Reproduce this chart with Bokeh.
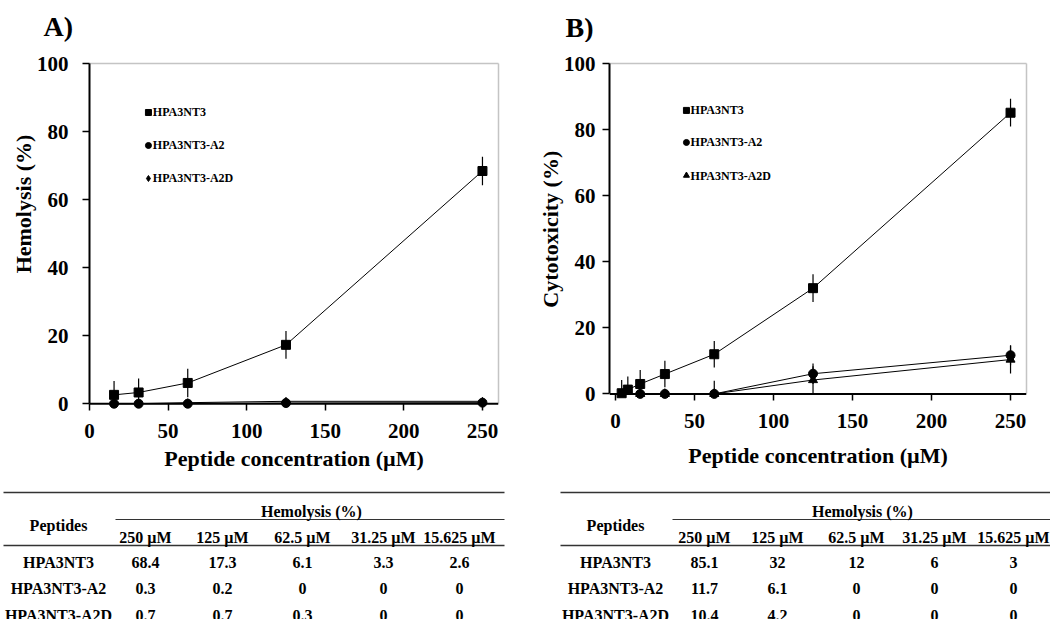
from bokeh.plotting import figure
from bokeh.layouts import column, row
from bokeh.models import Range1d, LinearAxis, FixedTicker, GlobalInlineStyleSheet, Span
from bokeh.core.properties import value
from bokeh.embed import file_html
from bokeh.resources import INLINE

FONT = "Liberation Serif"

# ---------------- data ----------------
# Panel A (hemolysis)
conc_A = [15.625, 31.25, 62.5, 125, 250]
hemo_hpa = [2.6, 3.3, 6.1, 17.3, 68.4]
hemo_hpa_err = [4.1, 4.1, 4.2, 4.1, 4.2]
hemo_a2 = [0, 0, 0, 0.2, 0.3]
hemo_a2d = [0, 0, 0.3, 0.7, 0.7]

# Panel B (cytotoxicity)
conc_B_hpa = [3.9, 7.8, 15.625, 31.25, 62.5, 125, 250]
cyto_hpa = [0.2, 1.3, 3, 6, 12, 32, 85.1]
cyto_hpa_err = [4, 4, 4.2, 4, 4, 4.2, 4.2]
conc_B = [15.625, 31.25, 62.5, 125, 250]
cyto_a2 = [0, 0, 0, 6.1, 11.7]
cyto_a2_err = [0, 0, 4, 3.1, 3]
cyto_a2d = [0, 0, 0, 4.2, 10.4]
cyto_a2d_err = [0, 0, 0, 4.2, 4.2]

x_ticks = [0, 50, 100, 150, 200, 250]
y_ticks = [0, 20, 40, 60, 80, 100]

series_names = ["HPA3NT3", "HPA3NT3-A2", "HPA3NT3-A2D"]
panel_titles = ["A)", "B)"]

# tables
table_cols = ["250 \u00b5M", "125 \u00b5M", "62.5 \u00b5M", "31.25 \u00b5M", "15.625 \u00b5M"]
table_header = "Hemolysis (%)"
hemo_table = [["68.4", "17.3", "6.1", "3.3", "2.6"],
              ["0.3", "0.2", "0", "0", "0"],
              ["0.7", "0.7", "0.3", "0", "0"]]
cyto_table = [["85.1", "32", "12", "6", "3"],
              ["11.7", "6.1", "0", "0", "0"],
              ["10.4", "4.2", "0", "0", "0"]]

HEAD_H = 42   # header strip with panel letters
TOP_H = 483   # bottom of the chart row (px)
ROW_H = TOP_H - HEAD_H


def canvas(width, y0, y1):
    f = figure(width=width, height=y1 - y0, x_range=Range1d(0, width),
               y_range=Range1d(y1, y0), x_axis_type=None, y_axis_type=None,
               toolbar_location=None, output_backend="svg", min_border=0,
               title_location=None)
    f.grid.visible = False
    f.outline_line_color = None
    return f


def make_panel(ylabel, xstart, xend, fw, fh, bl, br, frame_top,
               ylab_std, ytick_std, xlab_std):
    bt = frame_top - HEAD_H
    p = figure(frame_width=fw, frame_height=fh,
               min_border_left=bl, min_border_right=br,
               min_border_top=bt, min_border_bottom=ROW_H - bt - fh,
               x_range=Range1d(xstart, xend), y_range=Range1d(-2, 100),
               toolbar_location=None, output_backend="svg", title_location=None,
               background_fill_color="white", border_fill_color="white")
    p.grid.visible = False
    p.outline_line_color = None

    for ax in (p.xaxis[0], p.yaxis[0]):
        ax.axis_line_color = "black"
        ax.axis_line_width = 2
        ax.major_tick_line_color = "black"
        ax.major_tick_line_width = 1.5
        ax.minor_tick_line_color = None
        ax.major_label_text_font = FONT
        ax.major_label_text_font_style = "bold"
        ax.major_label_text_font_size = "21px"
        ax.major_label_text_color = "black"
        ax.axis_label_text_font = FONT
        ax.axis_label_text_font_style = "bold"
        ax.axis_label_text_font_size = "22px"
        ax.axis_label_text_color = "black"

    # x axis: ticks pointing down from the zero line (frame bottom sits at -2)
    p.xaxis.ticker = FixedTicker(ticks=x_ticks)
    p.xaxis.axis_line_color = None
    p.xaxis.major_tick_in = 7
    p.xaxis.major_tick_out = 0
    p.xaxis.axis_label = "Peptide concentration (\u00b5M)"
    p.xaxis.major_label_standoff = 13
    p.xaxis.axis_label_standoff = xlab_std
    p.add_layout(Span(location=0, dimension="width", line_color="black", line_width=2))

    p.yaxis.ticker = FixedTicker(ticks=y_ticks)
    p.yaxis.bounds = (0, 100)
    p.yaxis.major_tick_in = 0
    p.yaxis.major_tick_out = 7
    p.yaxis.axis_label = ylabel
    p.yaxis.major_label_standoff = ytick_std
    p.yaxis.axis_label_standoff = ylab_std

    # light gray frame on top and right
    for side in ("right", "above"):
        ax = LinearAxis(ticker=FixedTicker(ticks=[]), axis_line_color="#c4c4c4",
                        axis_line_width=1.5, major_tick_in=0, major_tick_out=0,
                        minor_tick_in=0, minor_tick_out=0,
                        major_label_standoff=0, axis_label_standoff=0,
                        major_label_text_font_size="0px")
        if side == "right":
            ax.bounds = (0, 100)
        p.add_layout(ax, side)
    return p


def err_bars(p, xs, ys, es):
    lo = [max(0, y - e) for y, e in zip(ys, es)]
    hi = [y + e for y, e in zip(ys, es)]
    p.segment(x0=xs, y0=lo, x1=xs, y1=hi, line_color="black", line_width=1.2)


def legend(p, x_marker, x_text, ys, markers):
    for y, name, m in zip(ys, series_names, markers):
        p.scatter([x_marker], [y], marker=m, size=6, color="black")
        p.text([x_text], [y], text=[name], text_font=value(FONT), text_font_style="bold",
               text_font_size="12px", text_baseline="middle", text_align="left",
               text_color="black")


# ---------------- header (panel letters) ----------------
H = canvas(1050, 0, HEAD_H)
H.text([43, 565], [26, 27], text=panel_titles, text_font=value(FONT),
       text_font_style="bold", text_font_size="28px", text_align="left",
       text_baseline="middle", text_color="black")

# ---------------- panel A ----------------
pA = make_panel("\u00a0" * 12 + "Hemolysis (%)", 0, 260.2, 409, 347, 89, 22, 61,
                -2, 14, 5)
err_bars(pA, conc_A, hemo_hpa, hemo_hpa_err)
pA.line(conc_A, hemo_a2d, line_color="black", line_width=1)
pA.scatter(conc_A, hemo_a2d, marker="diamond", size=8, color="black")
pA.line(conc_A, hemo_a2, line_color="black", line_width=1)
pA.scatter(conc_A, hemo_a2, marker="circle", size=9, color="black")
pA.line(conc_A, hemo_hpa, line_color="black", line_width=1)
pA.scatter(conc_A, hemo_hpa, marker="square", size=9, color="black")
legend(pA, 37.5, 40.3, [85.6, 75.9, 66.2], ["square", "circle", "diamond"])

# ---------------- panel B ----------------
pB = make_panel("\u00a0" + "Cytotoxicity (%)", -3.8, 260.1, 417, 337, 89, 24, 63,
                -2, 7, 12)
err_bars(pB, conc_B_hpa, cyto_hpa, cyto_hpa_err)
err_bars(pB, conc_B, cyto_a2, cyto_a2_err)
err_bars(pB, conc_B, cyto_a2d, cyto_a2d_err)
pB.line(conc_B, cyto_a2d, line_color="black", line_width=1)
pB.scatter(conc_B, cyto_a2d, marker="triangle", size=9, color="black")
pB.line(conc_B, cyto_a2, line_color="black", line_width=1)
pB.scatter(conc_B, cyto_a2, marker="circle", size=9, color="black")
pB.line(conc_B_hpa, cyto_hpa, line_color="black", line_width=1)
pB.scatter(conc_B_hpa, cyto_hpa, marker="square", size=9, color="black")
legend(pB, 44.9, 47.5, [85.8, 76.1, 66.1], ["square", "circle", "triangle"])

# ---------------- tables ----------------
T = canvas(1050, TOP_H, 619)

RULE_TOP, RULE_SUB, RULE_HEAD = 492, 519, 545
Y_HEADER, Y_PEPT, Y_COLS = 511, 525, 537
ROWS_Y = [562, 588, 615]


def draw_table(left, right, sub_left, label_x, header_x, col_x, cells):
    T.segment(x0=[left, sub_left, left], y0=[RULE_TOP, RULE_SUB, RULE_HEAD],
              x1=[right, right, right], y1=[RULE_TOP, RULE_SUB, RULE_HEAD],
              line_color="#333333", line_width=[1.6, 1.2, 1.6])
    kw = dict(text_font=value(FONT), text_font_style="bold", text_font_size="16px",
              text_align="center", text_baseline="middle", text_color="black")
    T.text([header_x], [Y_HEADER], text=[table_header], **kw)
    T.text([label_x], [Y_PEPT], text=["Peptides"], **kw)
    T.text(col_x, [Y_COLS] * len(col_x), text=table_cols, **kw)
    for ry, name, vals in zip(ROWS_Y, series_names, cells):
        T.text([label_x], [ry], text=[name], **kw)
        T.text(col_x, [ry] * len(col_x), text=vals, **kw)


draw_table(3, 504, 115, 58, 311, [145, 222, 302, 383, 459], hemo_table)
draw_table(560, 1050, 672, 615, 862, [704, 777, 856, 934, 1013], cyto_table)

layout = column(H, row(pA, pB), T,
                stylesheets=[GlobalInlineStyleSheet(css="html, body { overflow: hidden !important; }")])

open("out.html", "w").write(file_html(layout, INLINE))
